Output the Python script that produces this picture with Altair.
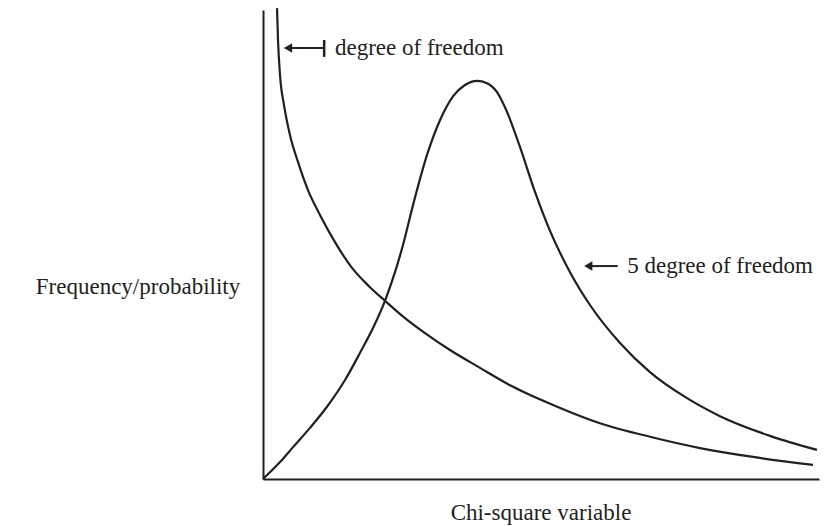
import altair as alt
import pandas as pd

# 1 degree of freedom curve (x: chi-square variable, y: frequency, both on a 0-100 scale)
df1_x = [2.52, 2.70, 3.06, 3.78, 4.86, 6.29, 8.09, 10.25, 12.95, 16.01, 19.24, 21.94, 25.54, 29.14,
         33.63, 39.03, 44.42, 52.16, 60.61, 69.60, 78.60, 88.13, 98.92]
df1_y = [100.4, 93.6, 86.1, 79.7, 73.3, 67.6, 61.6, 56.3, 50.5, 45.0, 40.9, 38.0, 34.3, 31.1,
         27.5, 23.7, 20.0, 15.8, 11.9, 9.0, 6.6, 4.7, 3.0]

# 5 degrees of freedom curve
df5_x = [0, 3.06, 5.40, 8.45, 11.51, 14.75, 17.45, 19.78, 21.94, 23.74, 25.18, 26.98, 29.50, 31.83,
         34.17, 36.33, 38.49, 40.29, 42.09, 43.88, 46.22, 48.92, 51.62, 55.22, 58.81, 64.21, 69.60,
         75.90, 82.19, 91.19, 99.64]
df5_y = [0, 3.6, 6.8, 10.9, 15.4, 21.1, 26.9, 32.2, 38.0, 44.1, 49.9, 58.4, 69.1, 76.5,
         81.6, 84.0, 84.9, 84.4, 82.5, 78.3, 70.8, 61.2, 52.9, 44.1, 37.1, 29.0, 22.8,
         17.5, 13.4, 9.2, 6.2]

# annotations
labels = ["degree of freedom", "5 degree of freedom"]
label_x = [12.95, 65.5]
label_y = [91.9, 45.4]
arrow_head_x = [4.5, 58.5]
arrow_tail_x = [11.0, 63.8]
bar_y = [93.6, 90.0]

x_title = "Chi-square variable"
y_title = "Frequency/probability"
x_title_pos = [50.0, -7.2]
y_title_pos = [-4.1, 40.9]

INK = "#231f20"
FONT = "Liberation Serif"
FS = 23

xs = alt.Scale(domain=[0, 100], nice=False, zero=False)
ys = alt.Scale(domain=[0, 100], nice=False, zero=False)

curves = pd.concat([
    pd.DataFrame({"x": df1_x, "y": df1_y, "series": "1 df"}),
    pd.DataFrame({"x": df5_x, "y": df5_y, "series": "5 df"}),
])

lines = alt.Chart(curves).mark_line(
    interpolate="monotone", color=INK, strokeWidth=2.2, clip=False
).encode(
    x=alt.X("x:Q", scale=xs, axis=alt.Axis(labels=False, ticks=False, grid=False, title=None,
                                           domainColor=INK, domainWidth=2)),
    y=alt.Y("y:Q", scale=ys, axis=alt.Axis(labels=False, ticks=False, grid=False, title=None,
                                           domainColor=INK, domainWidth=2)),
    detail="series:N",
)

ann = pd.DataFrame({"label": labels, "x": label_x, "y": label_y,
                    "hx": arrow_head_x, "tx": arrow_tail_x})

text = alt.Chart(ann).mark_text(align="left", baseline="middle", font=FONT, fontSize=FS,
                                color=INK, clip=False).encode(
    x=alt.X("x:Q", scale=xs), y=alt.Y("y:Q", scale=ys), text="label:N")

shaft = alt.Chart(ann).mark_rule(color=INK, strokeWidth=2).encode(
    x=alt.X("hx:Q", scale=xs), x2="tx:Q", y=alt.Y("y:Q", scale=ys))

heads = alt.Chart(ann).mark_point(shape="triangle-left", filled=True, color=INK, opacity=1,
                                  size=90).encode(
    x=alt.X("hx:Q", scale=xs), y=alt.Y("y:Q", scale=ys))

bar_df = pd.DataFrame({"x": [arrow_tail_x[0]], "y1": [bar_y[0]], "y2": [bar_y[1]]})
bar = alt.Chart(bar_df).mark_rule(color=INK, strokeWidth=2.5).encode(
    x=alt.X("x:Q", scale=xs), y=alt.Y("y1:Q", scale=ys), y2="y2:Q")

xt_df = pd.DataFrame({"label": [x_title], "x": [x_title_pos[0]], "y": [x_title_pos[1]]})
yt_df = pd.DataFrame({"label": [y_title], "x": [y_title_pos[0]], "y": [y_title_pos[1]]})
xt = alt.Chart(xt_df).mark_text(align="center", baseline="middle", font=FONT,
                                fontSize=FS, color=INK, clip=False).encode(
    x=alt.X("x:Q", scale=xs), y=alt.Y("y:Q", scale=ys), text="label:N")
yt = alt.Chart(yt_df).mark_text(align="right", baseline="middle", font=FONT,
                                fontSize=FS, color=INK, clip=False).encode(
    x=alt.X("x:Q", scale=xs), y=alt.Y("y:Q", scale=ys), text="label:N")

chart = alt.layer(lines, shaft, heads, bar, text, xt, yt).properties(
    width=556, height=469,
    autosize=alt.AutoSizeParams(type="none"),
    padding={"left": 255, "top": 2, "right": 2, "bottom": 47},
    background="white",
).configure_view(stroke=None)

chart.save("out.html", embed_options={"renderer": "svg", "actions": False})
